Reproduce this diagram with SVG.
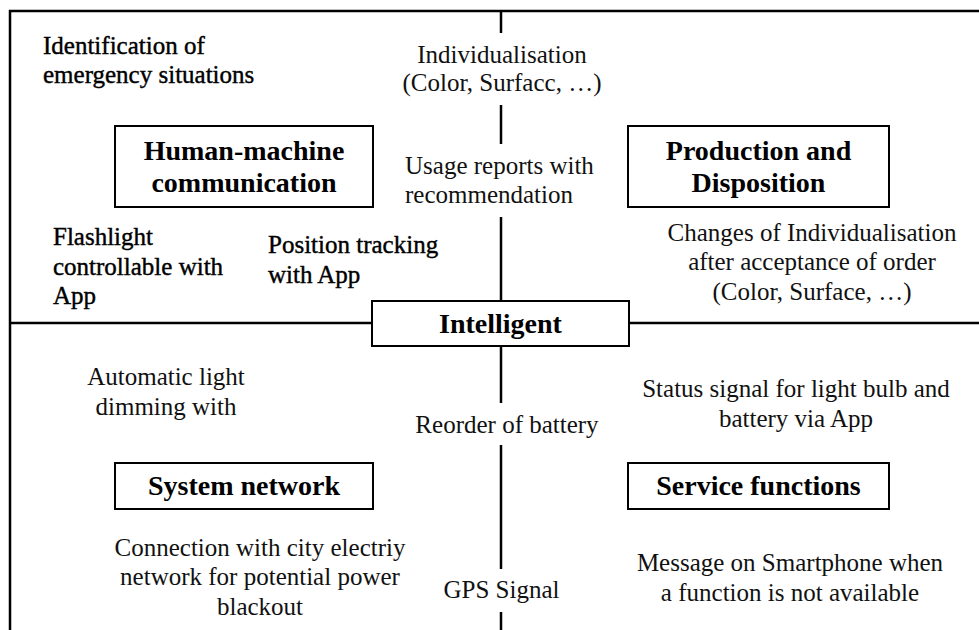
<svg xmlns="http://www.w3.org/2000/svg" width="979" height="630" viewBox="0 0 979 630">
<style>
.ln{stroke:#000;stroke-width:2.5;fill:none}
.box{fill:#fff;stroke:#000;stroke-width:2}
.t{font-size:25px;fill:#111}
.td{font-size:25px;fill:#000;stroke:#000;stroke-width:0.4}
.b{font-size:28px;font-weight:bold;fill:#000;text-anchor:middle}
.m{text-anchor:middle}
</style>
<rect width="979" height="630" fill="#fff"/>
<g id="connectors">
<path class="ln" d="M10,630 V11 H979"/>
<path class="ln" d="M501,11 V33 M501,105 V144 M501,217 V301 M501,346 V403 M501,445 V569 M501,612 V630"/>
<path class="ln" d="M10,323 H372 M629,323 H979"/>
</g>
<g font-family="Liberation Serif, Times New Roman, serif">
<g id="intelligent">
<rect class="box" x="372" y="301" width="257" height="45"/>
<text class="b" x="500.5" y="333">Intelligent</text>
</g>
<g id="human-machine">
<rect class="box" x="115" y="126" width="258" height="81"/>
<text class="b" x="244" y="160">Human-machine</text>
<text class="b" x="244" y="192">communication</text>
</g>
<g id="production">
<rect class="box" x="628" y="126" width="261" height="81"/>
<text class="b" x="758.5" y="160">Production and</text>
<text class="b" x="758.5" y="192">Disposition</text>
</g>
<g id="system-network">
<rect class="box" x="115" y="463" width="258" height="46"/>
<text class="b" x="244" y="495">System network</text>
</g>
<g id="service-functions">
<rect class="box" x="628" y="463" width="261" height="46"/>
<text class="b" x="758.5" y="495">Service functions</text>
</g>
<g id="labels">
<text class="td" x="43" y="54">Identification of</text>
<text class="td" x="43" y="83">emergency situations</text>
<text class="t m" x="502" y="63">Individualisation</text>
<text class="t m" x="502" y="91">(Color, Surfacc, …)</text>
<text class="t" x="405" y="174">Usage reports with</text>
<text class="t" x="405" y="203">recommendation</text>
<text class="td" x="53" y="245">Flashlight</text>
<text class="td" x="53" y="275">controllable with</text>
<text class="td" x="53" y="304">App</text>
<text class="td" x="268" y="253">Position tracking</text>
<text class="td" x="268" y="283">with App</text>
<text class="t m" x="812" y="241">Changes of Individualisation</text>
<text class="t m" x="812" y="270">after acceptance of order</text>
<text class="t m" x="812" y="300">(Color, Surface, …)</text>
<text class="t m" x="166" y="385">Automatic light</text>
<text class="t m" x="166" y="415">dimming with</text>
<text class="t m" x="507" y="433">Reorder of battery</text>
<text class="t m" x="796" y="397">Status signal for light bulb and</text>
<text class="t m" x="796" y="427">battery via App</text>
<text class="t m" x="260" y="556">Connection with city electriy</text>
<text class="t m" x="260" y="585">network for potential power</text>
<text class="t m" x="260" y="615">blackout</text>
<text class="t m" x="501.5" y="598">GPS Signal</text>
<text class="t m" x="790" y="571">Message on Smartphone when</text>
<text class="t m" x="790" y="601">a function is not available</text>
</g>
</g>
</svg>
